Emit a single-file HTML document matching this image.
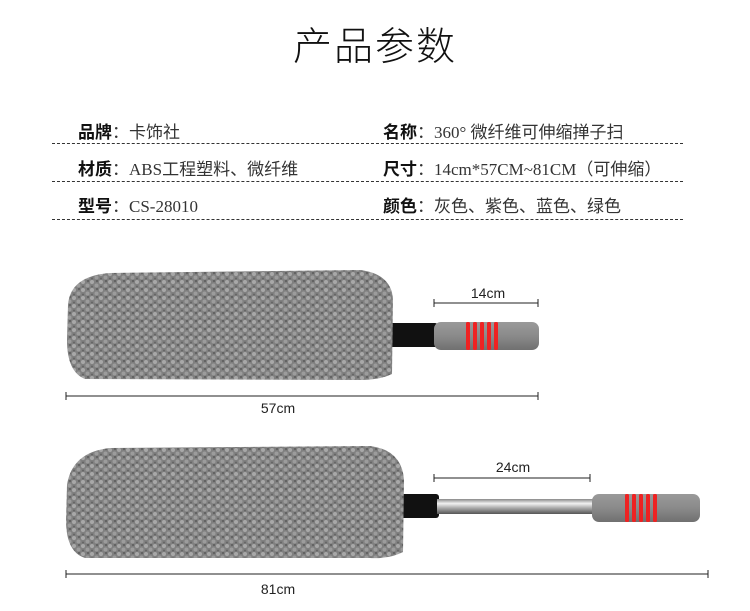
<!DOCTYPE html>
<html><head><meta charset="utf-8"><style>
html,body{margin:0;padding:0;background:#fff;}
body{width:750px;height:611px;position:relative;overflow:hidden;font-family:"Liberation Sans","Noto Sans CJK SC",sans-serif;}
.t{position:absolute;left:0;width:750px;top:16px;text-align:center;font-size:39px;font-weight:300;color:#111;letter-spacing:2px;font-family:"Noto Sans CJK SC",sans-serif;}
.r{position:absolute;font-size:17px;color:#333;white-space:nowrap;font-family:"Liberation Serif","Noto Sans CJK SC",serif;}
.r b{font-family:"Noto Sans CJK SC",sans-serif;font-weight:700;color:#111;}
.d{position:absolute;left:52px;width:631px;border-top:1px dashed #333;height:0;}
</style></head><body>
<div class="t">产品参数</div>
<div class="r" style="left:78px;top:118px"><b>品牌</b>：卡饰社</div>
<div class="r" style="left:383px;top:118px"><b>名称</b>：360° 微纤维可伸缩掸子扫</div>
<div class="d" style="top:143px"></div>
<div class="r" style="left:78px;top:155px"><b>材质</b>：ABS工程塑料、微纤维</div>
<div class="r" style="left:383px;top:155px"><b>尺寸</b>：14cm*57CM~81CM（可伸缩）</div>
<div class="d" style="top:181px"></div>
<div class="r" style="left:78px;top:192px"><b>型号</b>：CS-28010</div>
<div class="r" style="left:383px;top:192px"><b>颜色</b>：灰色、紫色、蓝色、绿色</div>
<div class="d" style="top:219px"></div>
<svg width="750" height="611" style="position:absolute;left:0;top:0">
<defs>
<pattern id="fz" width="9" height="8" patternUnits="userSpaceOnUse">
<rect width="9" height="8" fill="#808080"/>
<circle cx="2" cy="2" r="2" fill="#a8a8a8"/>
<circle cx="6.5" cy="5.5" r="2" fill="#9c9c9c"/>
<circle cx="7" cy="1" r="1.2" fill="#626262"/>
<circle cx="2" cy="6.5" r="1" fill="#646464"/>
</pattern>
<linearGradient id="st" x1="0" y1="0" x2="0" y2="1"><stop offset="0" stop-color="#888"/><stop offset=".3" stop-color="#f2f2f2"/><stop offset=".6" stop-color="#aaa"/><stop offset="1" stop-color="#555"/></linearGradient>
<linearGradient id="gr" x1="0" y1="0" x2="0" y2="1"><stop offset="0" stop-color="#9a9a9a"/><stop offset=".5" stop-color="#8a8a8a"/><stop offset="1" stop-color="#707070"/></linearGradient>
</defs>
<g font-family="Liberation Sans,sans-serif" font-size="14" fill="#222" text-anchor="middle">
<!-- top -->
<rect x="388" y="323" width="50" height="24" rx="3" fill="#111"/>
<rect x="434" y="322" width="105" height="28" rx="7" fill="url(#gr)"/>
<g fill="#e22">
<rect x="466" y="322" width="4" height="28" rx="1.5"/><rect x="473" y="322" width="4" height="28" rx="1.5"/><rect x="480" y="322" width="4" height="28" rx="1.5"/><rect x="487" y="322" width="4" height="28" rx="1.5"/><rect x="494" y="322" width="4" height="28" rx="1.5"/>
</g>
<path d="M68 305 Q70 276 110 273 L360 270 Q392 274 393 300 L392 374 Q380 380 360 380 L85 379 Q67 372 67 340 Z" fill="url(#fz)"/>
<line x1="434" y1="303" x2="538" y2="303" stroke="#222"/><line x1="434" y1="299" x2="434" y2="307" stroke="#222"/><line x1="538" y1="299" x2="538" y2="307" stroke="#222"/>
<text x="488" y="298">14cm</text>
<line x1="66" y1="396" x2="538" y2="396" stroke="#222"/><line x1="66" y1="392" x2="66" y2="400" stroke="#222"/><line x1="538" y1="392" x2="538" y2="400" stroke="#222"/>
<text x="278" y="413">57cm</text>
<!-- bottom -->
<rect x="395" y="494" width="44" height="24" rx="3" fill="#111"/>
<rect x="437" y="499" width="157" height="15" fill="url(#st)"/>
<rect x="592" y="494" width="108" height="28" rx="7" fill="url(#gr)"/>
<g fill="#e22">
<rect x="625" y="494" width="4" height="28" rx="1.5"/><rect x="632" y="494" width="4" height="28" rx="1.5"/><rect x="639" y="494" width="4" height="28" rx="1.5"/><rect x="646" y="494" width="4" height="28" rx="1.5"/><rect x="653" y="494" width="4" height="28" rx="1.5"/>
</g>
<path d="M67 485 Q72 452 110 448 L370 446 Q402 450 404 480 L403 552 Q390 559 370 558 L85 558 Q66 552 66 520 Z" fill="url(#fz)"/>
<line x1="434" y1="478" x2="590" y2="478" stroke="#222"/><line x1="434" y1="474" x2="434" y2="482" stroke="#222"/><line x1="590" y1="474" x2="590" y2="482" stroke="#222"/>
<text x="513" y="472">24cm</text>
<line x1="66" y1="574" x2="708" y2="574" stroke="#222"/><line x1="66" y1="570" x2="66" y2="578" stroke="#222"/><line x1="708" y1="570" x2="708" y2="578" stroke="#222"/>
<text x="278" y="594">81cm</text>
</g>
</svg>
</body></html>
